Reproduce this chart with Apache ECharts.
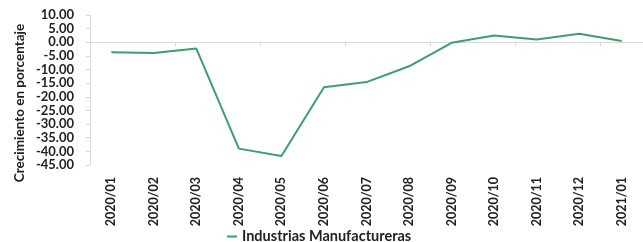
<!DOCTYPE html>
<html>
<head>
<meta charset="utf-8">
<script src="https://cdn.jsdelivr.net/npm/echarts@6/dist/echarts.min.js"></script>
<style>
  html, body { margin: 0; padding: 0; background: #fff; }
  #main { width: 643px; height: 242px; }
</style>
</head>
<body>
<div id="main"></div>
<script>
// datos
const meses = ['2020/01', '2020/02', '2020/03', '2020/04', '2020/05', '2020/06', '2020/07',
  '2020/08', '2020/09', '2020/10', '2020/11', '2020/12', '2021/01']
const manufactureras = [-3.7, -3.9, -2.3, -39.0, -41.7, -16.5, -14.6, -8.8, -0.2, 2.5, 1.0, 3.1, 0.5]
const serieNombre = 'Industrias Manufactureras'
const tituloY = 'Crecimiento en porcentaje'
const ejeY = { min: -45, max: 10, interval: 5 }

const verde = '#3d9f6c'
const gris = '#d9d9d9'
const fuente = 'Lato'

let myChart = echarts.init(document.getElementById('main'))
let option = {
  animation: false,
  grid: { left: 90, top: 15, width: 556, bottom: 77 },
  // titulo del eje Y (en Excel va algo desplazado hacia abajo)
  graphic: [{
    type: 'text',
    x: 20, y: 103,
    rotation: Math.PI / 2,
    style: {
      text: tituloY,
      align: 'center', verticalAlign: 'middle',
      font: 'bold 13.5px ' + fuente,
      fill: '#222'
    }
  }],
  legend: {
    data: [serieNombre],
    left: 222,
    top: 224,
    icon: 'rect',
    itemWidth: 10,
    itemHeight: 2,
    textStyle: { fontFamily: fuente, fontWeight: 'bold', fontSize: 14.5, color: '#222' }
  },
  xAxis: [{
    type: 'category',
    data: meses,
    position: 'bottom',
    axisLine: { show: false, onZero: false },
    axisTick: { show: false },
    axisLabel: {
      rotate: 90, margin: 12, interval: 0,
      fontFamily: fuente, fontWeight: 'bold', fontSize: 12.5, color: '#222'
    }
  }, {
    type: 'category',
    data: meses,
    position: 'bottom',
    axisLine: { show: true, onZero: true, lineStyle: { color: gris, width: 1 } },
    axisTick: { show: true, length: 4, lineStyle: { color: gris } },
    axisLabel: { show: false }
  }],
  yAxis: {
    type: 'value',
    min: ejeY.min, max: ejeY.max, interval: ejeY.interval,
    axisLine: { show: true, lineStyle: { color: gris } },
    axisTick: { show: true, length: 4, lineStyle: { color: gris } },
    splitLine: { show: false },
    axisLabel: {
      margin: 16,
      formatter: v => v.toFixed(2),
      fontFamily: fuente, fontWeight: 'bold', fontSize: 13, color: '#222'
    }
  },
  series: [{
    name: serieNombre,
    type: 'line',
    xAxisIndex: 0,
    data: manufactureras,
    symbol: 'none',
    lineStyle: { color: verde, width: 2 },
    itemStyle: { color: verde }
  }]
}
myChart.setOption(option)
</script>
</body>
</html>
